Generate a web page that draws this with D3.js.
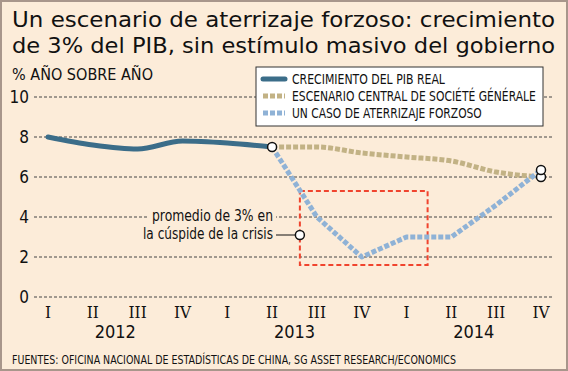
<!DOCTYPE html>
<html>
<head>
<meta charset="utf-8">
<script src="https://cdn.jsdelivr.net/npm/d3@7.9.0/dist/d3.min.js"></script>
<style>
  html, body { margin: 0; padding: 0; background: #fff; }
  svg { display: block; }
  .cond { font-family: "DejaVu Sans Condensed", "DejaVu Sans", sans-serif; font-stretch: condensed; }
</style>
</head>
<body>
<svg id="chart" width="568" height="371"></svg>
<script>
const quarters = ['I', 'II', 'III', 'IV', 'I', 'II', 'III', 'IV', 'I', 'II', 'III', 'IV'];
const years = [
  { label: '2012', q: 1.5 },
  { label: '2013', q: 5.5 },
  { label: '2014', q: 9.5 },
];
const yTicks = [0, 2, 4, 6, 8, 10];

// quarter index -> % año sobre año
const actualGdp = [[0, 8.0], [1, 7.6], [2, 7.4], [3, 7.8], [4, 7.7], [5, 7.5]];
const sgScenario = [[5, 7.5], [6, 7.5], [7, 7.2], [8, 7.0], [9, 6.8], [10, 6.25], [11, 6.0]];
const hardLanding = [[5, 7.5], [6, 4.0], [7, 2.0], [8, 3.0], [9, 3.0], [10, 4.6], [11, 6.35]];
const crisisPoint = [5.62, 3.1];
const crisisBox = { q0: 5.62, q1: 8.47, v0: 1.6, v1: 5.3 };

const legendItems = [
  { label: 'CRECIMIENTO DEL PIB REAL', color: '#3b6d89', dash: null, width: 153 },
  { label: 'ESCENARIO CENTRAL DE SOCIÉTÉ GÉNÉRALE', color: '#c2b285', dash: '5,2', width: 244 },
  { label: 'UN CASO DE ATERRIZAJE FORZOSO', color: '#8fb2d6', dash: '5,2', width: 190 },
];

const svg = d3.select('#chart');
const W = 568, H = 371;

svg.append('rect')
  .attr('x', 1).attr('y', 1).attr('width', W - 2).attr('height', H - 2)
  .attr('fill', '#fcecd9').attr('stroke', '#a8968b').attr('stroke-width', 2);

const x = d3.scaleLinear().domain([0, 11]).range([48, 541]);
const y = d3.scaleLinear().domain([0, 10]).range([297, 97]);

// squeeze a text horizontally to a target width
function fitWidth(sel, w) {
  sel.each(function (d) {
    const target = typeof w === 'function' ? w(d) : w;
    const natural = this.getComputedTextLength();
    const k = Math.min(1, target / natural);
    const tx = +this.getAttribute('x'), ty = +this.getAttribute('y');
    d3.select(this).attr('x', 0).attr('y', 0)
      .attr('transform', `translate(${tx},${ty}) scale(${k},1)`);
  });
}

// title
const title = svg.append('g').attr('font-family', '"DejaVu Sans", sans-serif').attr('font-size', 21).attr('fill', '#111');
title.append('text').attr('x', 12).attr('y', 27)
  .attr('textLength', 543).attr('lengthAdjust', 'spacingAndGlyphs')
  .text('Un escenario de aterrizaje forzoso: crecimiento');
title.append('text').attr('x', 12).attr('y', 53)
  .attr('textLength', 543).attr('lengthAdjust', 'spacingAndGlyphs')
  .text('de 3% del PIB, sin estímulo masivo del gobierno');

svg.append('text').attr('class', 'cond')
  .attr('x', 12).attr('y', 80).attr('font-size', 15).attr('fill', '#111')
  .attr('textLength', 141).attr('lengthAdjust', 'spacingAndGlyphs')
  .text('% AÑO SOBRE AÑO');

// grid + y labels
svg.append('g')
  .selectAll('line')
  .data(yTicks)
  .join('line')
  .attr('x1', 34).attr('x2', 552)
  .attr('y1', d => y(d)).attr('y2', d => y(d))
  .attr('stroke', '#444').attr('stroke-width', 1).attr('stroke-dasharray', '3,2');

svg.append('g').attr('class', 'cond')
  .selectAll('text')
  .data(yTicks)
  .join('text')
  .attr('x', 29).attr('y', d => y(d) + 6)
  .attr('text-anchor', 'end').attr('font-size', 17).attr('fill', '#111')
  .text(d => d);

// x labels
svg.append('g').attr('font-family', '"DejaVu Serif Condensed", "DejaVu Serif", serif')
  .selectAll('text')
  .data(quarters)
  .join('text')
  .attr('x', (d, i) => x(i)).attr('y', 318)
  .attr('text-anchor', 'middle').attr('font-size', 17).attr('fill', '#111')
  .text(d => d);

svg.append('g').attr('class', 'cond')
  .selectAll('text')
  .data(years)
  .join('text')
  .attr('x', d => x(d.q)).attr('y', 338)
  .attr('text-anchor', 'middle').attr('font-size', 18).attr('fill', '#111')
  .text(d => d.label);

// crisis box
svg.append('rect')
  .attr('x', x(crisisBox.q0)).attr('y', y(crisisBox.v1))
  .attr('width', x(crisisBox.q1) - x(crisisBox.q0))
  .attr('height', y(crisisBox.v0) - y(crisisBox.v1))
  .attr('fill', 'none').attr('stroke', '#f0442e').attr('stroke-width', 2).attr('stroke-dasharray', '5,3');

// lines
const line = d3.line().x(d => x(d[0])).y(d => y(d[1]));
const smooth = d3.line().x(d => x(d[0])).y(d => y(d[1])).curve(d3.curveMonotoneX);

svg.append('path').datum(sgScenario)
  .attr('d', smooth).attr('fill', 'none')
  .attr('stroke', legendItems[1].color).attr('stroke-width', 5).attr('stroke-dasharray', '5,2');

svg.append('path').datum(hardLanding)
  .attr('d', line).attr('fill', 'none')
  .attr('stroke', legendItems[2].color).attr('stroke-width', 5).attr('stroke-dasharray', '5,2')
  .attr('stroke-linejoin', 'round');

svg.append('path').datum(actualGdp)
  .attr('d', smooth).attr('fill', 'none')
  .attr('stroke', legendItems[0].color).attr('stroke-width', 5).attr('stroke-linecap', 'round');

// annotation
const note = svg.append('g').attr('class', 'cond').attr('font-size', 16).attr('fill', '#111').attr('text-anchor', 'end');
note.append('rect').attr('x', 148).attr('y', 207).attr('width', 128).attr('height', 36).attr('fill', '#fcecd9');
note.append('text').attr('x', 273).attr('y', 221)
  .attr('textLength', 121).attr('lengthAdjust', 'spacingAndGlyphs').text('promedio de 3% en');
note.append('text').attr('x', 273).attr('y', 239)
  .attr('textLength', 130).attr('lengthAdjust', 'spacingAndGlyphs').text('la cúspide de la crisis');
svg.append('line')
  .attr('x1', 276).attr('x2', x(crisisPoint[0]))
  .attr('y1', y(crisisPoint[1])).attr('y2', y(crisisPoint[1]))
  .attr('stroke', '#111').attr('stroke-width', 1);

// markers
const markers = [actualGdp[actualGdp.length - 1], crisisPoint, sgScenario[sgScenario.length - 1], hardLanding[hardLanding.length - 1]];
svg.append('g')
  .selectAll('circle')
  .data(markers)
  .join('circle')
  .attr('cx', d => x(d[0])).attr('cy', d => y(d[1])).attr('r', 4.5)
  .attr('fill', '#fff').attr('stroke', '#111').attr('stroke-width', 1.5);

// legend
const legend = svg.append('g').attr('transform', 'translate(256,67)');
legend.append('rect').attr('width', 287).attr('height', 59)
  .attr('fill', '#fff').attr('stroke', '#333').attr('stroke-width', 1);
const row = legend.selectAll('g.row')
  .data(legendItems)
  .join('g')
  .attr('class', 'row')
  .attr('transform', (d, i) => `translate(0,${12 + i * 17})`);
row.append('line')
  .attr('x1', 7).attr('x2', 29)
  .attr('stroke', d => d.color).attr('stroke-width', 5)
  .attr('stroke-dasharray', d => d.dash)
  .attr('stroke-linecap', d => d.dash ? 'butt' : 'round');
row.append('text').attr('class', 'cond')
  .attr('x', 36).attr('y', 5).attr('font-size', 14).attr('fill', '#111')
  .text(d => d.label)
  .call(fitWidth, d => d.width);

// source
svg.append('text').attr('class', 'cond')
  .attr('x', 12).attr('y', 364).attr('font-size', 12).attr('fill', '#111')
  .attr('textLength', 444).attr('lengthAdjust', 'spacingAndGlyphs')
  .text('FUENTES: OFICINA NACIONAL DE ESTADÍSTICAS DE CHINA, SG ASSET RESEARCH/ECONOMICS');
</script>
</body>
</html>
